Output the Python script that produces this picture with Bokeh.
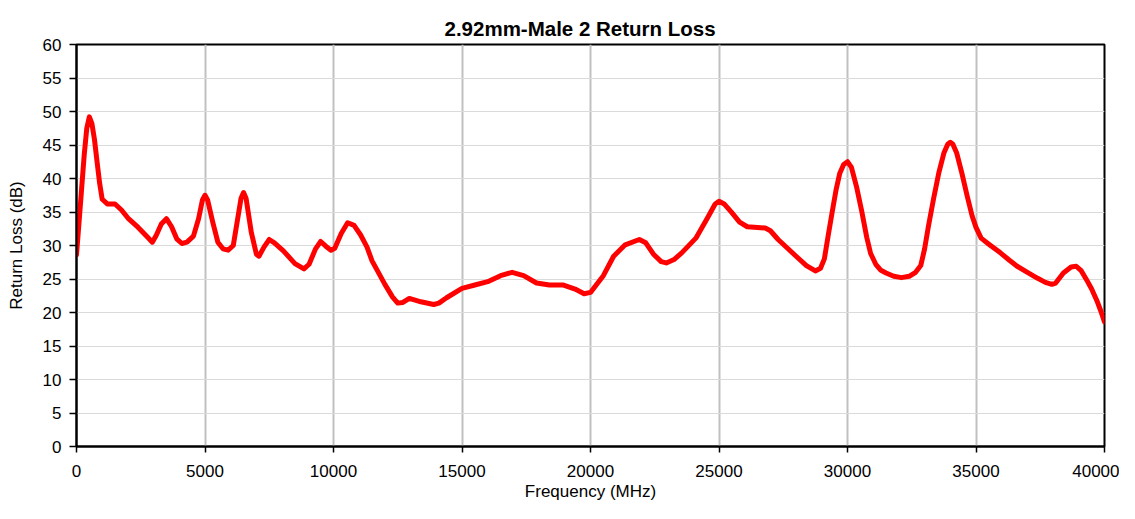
from bokeh.plotting import figure
from bokeh.models import Range1d, FixedTicker, Title
from bokeh.embed import file_html
from bokeh.resources import INLINE

# Frequency (MHz) and return loss (dB)
freq_mhz = [0, 100, 200, 300, 400, 500, 600, 700, 800, 900, 1000, 1200, 1500, 1750, 2000,
            2400, 2750, 2950, 3100, 3300, 3500, 3700, 3900, 4100, 4300, 4550, 4750, 4900,
            5000, 5100, 5300, 5500, 5700, 5900, 6100, 6250, 6400, 6500, 6600, 6800, 7000,
            7100, 7300, 7500, 7700, 8050, 8500, 8850, 9050, 9300, 9500, 9700, 9900, 10050,
            10300, 10550, 10800, 11050, 11300, 11500, 12000, 12300, 12500, 12700, 12950,
            13400, 13900, 14100, 14400, 15000, 15500, 16000, 16500, 16950, 17400, 17900,
            18400, 18950, 19400, 19750, 20000, 20200, 20500, 20900, 21350, 21900, 22150,
            22450, 22750, 22950, 23250, 23550, 24100, 24550, 24850, 25000, 25200, 25500,
            25800, 26100, 26500, 26800, 27000, 27300, 28000, 28400, 28750, 28950, 29100,
            29250, 29400, 29550, 29700, 29850, 30000, 30150, 30350, 30550, 30750, 30900,
            31100, 31300, 31500, 31800, 32100, 32400, 32650, 32850, 33000, 33150, 33350,
            33550, 33750, 33900, 34000, 34100, 34250, 34450, 34650, 34850, 35000, 35200,
            35500, 35950, 36300, 36600, 37000, 37400, 37700, 37950, 38100, 38400, 38700,
            38900, 39100, 39300, 39500, 39700, 39850, 40000]
return_loss_db = [28.6, 33.5, 38.5, 43.5, 47.5, 49.2, 48.2, 45.8, 42.5, 39.3, 36.9, 36.2, 36.2, 35.3, 34.1,
                  32.7, 31.3, 30.5, 31.5, 33.2, 34.0, 32.8, 31.0, 30.3, 30.5, 31.4, 34.0, 36.8,
                  37.5, 36.8, 33.5, 30.5, 29.5, 29.3, 30.0, 33.5, 37.0, 37.9, 37.0, 32.0, 28.7,
                  28.4, 29.8, 30.9, 30.4, 29.2, 27.3, 26.5, 27.2, 29.5, 30.6, 29.9, 29.3, 29.6,
                  31.8, 33.4, 33.0, 31.6, 29.8, 27.7, 24.2, 22.3, 21.4, 21.5, 22.1,
                  21.6, 21.2, 21.4, 22.2, 23.6, 24.1, 24.6, 25.5, 26.0, 25.5, 24.4,
                  24.1, 24.1, 23.5, 22.8, 23.0, 24.0, 25.5, 28.4, 30.1, 30.9, 30.4,
                  28.7, 27.6, 27.4, 27.9, 28.9, 31.1, 34.1, 36.2, 36.6, 36.2, 34.9,
                  33.5, 32.8, 32.7, 32.6, 32.2, 30.9, 28.4, 27.0, 26.2, 26.6, 28.0,
                  31.5, 34.9, 38.2, 40.8, 42.1, 42.5, 41.7, 38.8, 35.2, 31.2, 28.8,
                  27.2, 26.3, 25.9, 25.4, 25.2, 25.4, 26.0, 27.0, 29.5, 32.9, 37.0,
                  40.8, 43.8, 45.1, 45.4, 45.1, 43.8, 40.8, 37.5, 34.4, 32.7, 31.1,
                  30.2, 28.9, 27.8, 26.9, 26.0, 25.1, 24.5, 24.2, 24.4, 25.9, 26.8,
                  26.9, 26.2, 24.9, 23.5, 21.8, 20.3, 18.6]

x_ticks = [0, 5000, 10000, 15000, 20000, 25000, 30000, 35000, 40000]
y_ticks = [0, 5, 10, 15, 20, 25, 30, 35, 40, 45, 50, 55, 60]

title_text = "2.92mm-Male 2 Return Loss"
x_label = "Frequency (MHz)"
y_label = "Return Loss (dB)"

FONT = "Liberation Sans"

p = figure(width=1119, height=503, output_backend="svg", toolbar_location=None,
           x_range=Range1d(0, 40000), y_range=Range1d(0, 60),
           min_border_left=76, min_border_right=15, min_border_top=44, min_border_bottom=55)

t = Title(text=title_text, text_font=FONT, text_font_size="20.5px", text_font_style="bold",
          text_color="black", align="left", offset=368, standoff=10)
p.add_layout(t, "above")

p.background_fill_color = "white"
p.border_fill_color = "white"
p.outline_line_color = "black"
p.outline_line_width = 2

for ax in (p.xaxis[0], p.yaxis[0]):
    ax.axis_line_color = "black"
    ax.axis_line_width = 2
    ax.major_tick_line_color = "black"
    ax.major_tick_line_width = 1.5
    ax.major_tick_in = 0
    ax.minor_tick_line_color = None
    ax.major_label_text_font = FONT
    ax.major_label_text_font_size = "17px"
    ax.major_label_text_color = "black"
    ax.axis_label_text_font = FONT
    ax.axis_label_text_font_size = "17px"
    ax.axis_label_text_font_style = "normal"
    ax.axis_label_text_color = "black"

p.xaxis[0].ticker = FixedTicker(ticks=x_ticks)
p.yaxis[0].ticker = FixedTicker(ticks=y_ticks)
p.xaxis[0].major_tick_out = 6
p.yaxis[0].major_tick_out = 7
p.xaxis[0].major_label_standoff = 12
p.yaxis[0].major_label_standoff = 8
p.xaxis[0].axis_label = x_label
p.yaxis[0].axis_label = y_label
p.xaxis[0].axis_label_standoff = 2
p.yaxis[0].axis_label_standoff = 14

p.xgrid[0].ticker = FixedTicker(ticks=x_ticks)
p.ygrid[0].ticker = FixedTicker(ticks=y_ticks)
p.xgrid[0].grid_line_color = "#c0c0c0"
p.xgrid[0].grid_line_width = 2
p.ygrid[0].grid_line_color = "#dadada"
p.ygrid[0].grid_line_width = 1

p.line(freq_mhz, return_loss_db, line_color="#ff0000", line_width=5,
       line_join="round", line_cap="round")

open("out.html", "w").write(file_html(p, INLINE))
